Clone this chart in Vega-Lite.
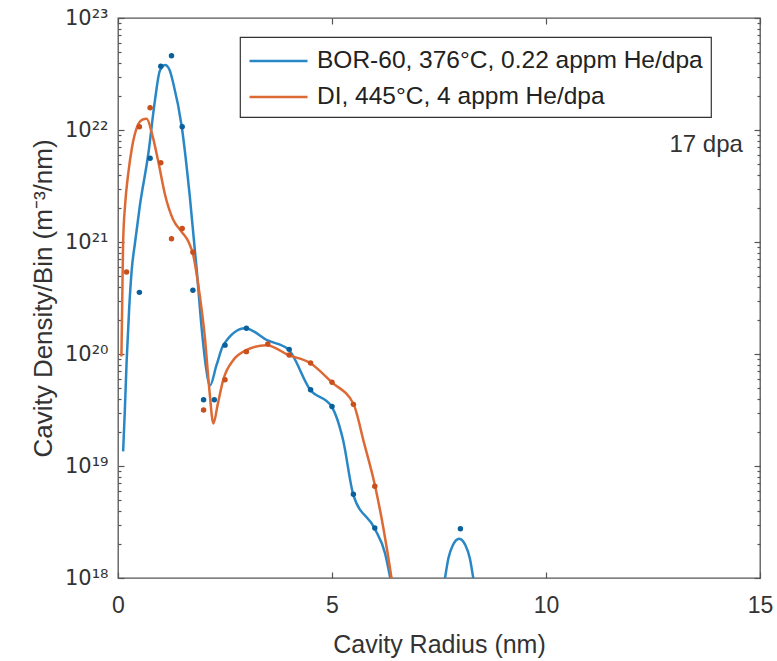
{
  "$schema": "https://vega.github.io/schema/vega-lite/v6.json",
  "width": 642,
  "height": 560,
  "autosize": {"type": "none"},
  "padding": {"left": 118, "top": 18, "right": 17, "bottom": 83},
  "background": "white",
  "config": {
    "view": {"stroke": "#555555", "strokeWidth": 1.3},
    "font": "Liberation Sans",
    "axis": {"grid": false, "domain": false, "labelFont": "Liberation Sans", "titleFont": "Liberation Sans", "labelColor": "#333333", "titleColor": "#333333", "titleFontWeight": "normal", "tickColor": "#555555", "tickWidth": 1.2, "labelFlush": false},
    "legend": {
      "orient": "none", "legendX": 122, "legendY": 19, "direction": "vertical",
      "fillColor": "white", "strokeColor": "#333333", "strokeWidth": 1.2, "padding": 8,
      "labelFontSize": 24.5, "labelFont": "Liberation Sans", "labelColor": "#222222",
      "symbolType": "M-1,0H3", "symbolSize": 841, "symbolStrokeWidth": 2.5,
      "rowPadding": 8, "labelOffset": 37, "labelLimit": 700
    }
  },
  "datasets": {
    "curves": [
      {"series": "BOR-60, 376°C, 0.22 appm He/dpa", "x": 0.12, "y": 1.35e19},
      {"series": "BOR-60, 376°C, 0.22 appm He/dpa", "x": 0.16, "y": 3.16e19},
      {"series": "BOR-60, 376°C, 0.22 appm He/dpa", "x": 0.2, "y": 8.3e19},
      {"series": "BOR-60, 376°C, 0.22 appm He/dpa", "x": 0.26, "y": 2.5e20},
      {"series": "BOR-60, 376°C, 0.22 appm He/dpa", "x": 0.32, "y": 5.6e20},
      {"series": "BOR-60, 376°C, 0.22 appm He/dpa", "x": 0.4, "y": 1.0e21},
      {"series": "BOR-60, 376°C, 0.22 appm He/dpa", "x": 0.51, "y": 2.1e21},
      {"series": "BOR-60, 376°C, 0.22 appm He/dpa", "x": 0.71, "y": 6.2e21},
      {"series": "BOR-60, 376°C, 0.22 appm He/dpa", "x": 0.86, "y": 1.8e22},
      {"series": "BOR-60, 376°C, 0.22 appm He/dpa", "x": 0.98, "y": 3.4e22},
      {"series": "BOR-60, 376°C, 0.22 appm He/dpa", "x": 1.1, "y": 3.8e22},
      {"series": "BOR-60, 376°C, 0.22 appm He/dpa", "x": 1.2, "y": 3.47e22},
      {"series": "BOR-60, 376°C, 0.22 appm He/dpa", "x": 1.29, "y": 2.63e22},
      {"series": "BOR-60, 376°C, 0.22 appm He/dpa", "x": 1.49, "y": 1.07e22},
      {"series": "BOR-60, 376°C, 0.22 appm He/dpa", "x": 1.68, "y": 2.5e21},
      {"series": "BOR-60, 376°C, 0.22 appm He/dpa", "x": 1.84, "y": 5.6e20},
      {"series": "BOR-60, 376°C, 0.22 appm He/dpa", "x": 1.96, "y": 1.62e20},
      {"series": "BOR-60, 376°C, 0.22 appm He/dpa", "x": 2.05, "y": 7.9e19},
      {"series": "BOR-60, 376°C, 0.22 appm He/dpa", "x": 2.15, "y": 5.25e19},
      {"series": "BOR-60, 376°C, 0.22 appm He/dpa", "x": 2.3, "y": 7.9e19},
      {"series": "BOR-60, 376°C, 0.22 appm He/dpa", "x": 2.46, "y": 1.2e20},
      {"series": "BOR-60, 376°C, 0.22 appm He/dpa", "x": 2.97, "y": 1.7e20},
      {"series": "BOR-60, 376°C, 0.22 appm He/dpa", "x": 3.5, "y": 1.32e20},
      {"series": "BOR-60, 376°C, 0.22 appm He/dpa", "x": 3.98, "y": 1.1e20},
      {"series": "BOR-60, 376°C, 0.22 appm He/dpa", "x": 4.49, "y": 4.8e19},
      {"series": "BOR-60, 376°C, 0.22 appm He/dpa", "x": 4.99, "y": 3.4e19},
      {"series": "BOR-60, 376°C, 0.22 appm He/dpa", "x": 5.26, "y": 1.7e19},
      {"series": "BOR-60, 376°C, 0.22 appm He/dpa", "x": 5.5, "y": 5.5e18},
      {"series": "BOR-60, 376°C, 0.22 appm He/dpa", "x": 6.0, "y": 2.75e18},
      {"series": "BOR-60, 376°C, 0.22 appm He/dpa", "x": 6.24, "y": 1.66e18},
      {"series": "BOR-60, 376°C, 0.22 appm He/dpa", "x": 6.36, "y": 1.0e18},
      {"series": "BOR-60, 376°C, 0.22 appm He/dpa", "x": 6.45, "y": 6.3e17},
      {"series": "BOR-60, 376°C, 0.22 appm He/dpa", "x": 7.0, "y": 1e17},
      {"series": "BOR-60, 376°C, 0.22 appm He/dpa", "x": 7.55, "y": 6.3e17},
      {"series": "BOR-60, 376°C, 0.22 appm He/dpa", "x": 7.64, "y": 1.0e18},
      {"series": "BOR-60, 376°C, 0.22 appm He/dpa", "x": 7.72, "y": 1.5e18},
      {"series": "BOR-60, 376°C, 0.22 appm He/dpa", "x": 7.82, "y": 1.95e18},
      {"series": "BOR-60, 376°C, 0.22 appm He/dpa", "x": 7.97, "y": 2.24e18},
      {"series": "BOR-60, 376°C, 0.22 appm He/dpa", "x": 8.12, "y": 1.95e18},
      {"series": "BOR-60, 376°C, 0.22 appm He/dpa", "x": 8.22, "y": 1.5e18},
      {"series": "BOR-60, 376°C, 0.22 appm He/dpa", "x": 8.3, "y": 1.0e18},
      {"series": "BOR-60, 376°C, 0.22 appm He/dpa", "x": 8.38, "y": 6.3e17},
      {"series": "DI, 445°C, 4 appm He/dpa", "x": 0.08, "y": 9.5e19},
      {"series": "DI, 445°C, 4 appm He/dpa", "x": 0.1, "y": 3.16e20},
      {"series": "DI, 445°C, 4 appm He/dpa", "x": 0.12, "y": 1.0e21},
      {"series": "DI, 445°C, 4 appm He/dpa", "x": 0.17, "y": 2.24e21},
      {"series": "DI, 445°C, 4 appm He/dpa", "x": 0.24, "y": 4.1e21},
      {"series": "DI, 445°C, 4 appm He/dpa", "x": 0.33, "y": 7.1e21},
      {"series": "DI, 445°C, 4 appm He/dpa", "x": 0.44, "y": 1.05e22},
      {"series": "DI, 445°C, 4 appm He/dpa", "x": 0.56, "y": 1.23e22},
      {"series": "DI, 445°C, 4 appm He/dpa", "x": 0.67, "y": 1.26e22},
      {"series": "DI, 445°C, 4 appm He/dpa", "x": 0.8, "y": 9.1e21},
      {"series": "DI, 445°C, 4 appm He/dpa", "x": 0.94, "y": 5.25e21},
      {"series": "DI, 445°C, 4 appm He/dpa", "x": 1.1, "y": 2.63e21},
      {"series": "DI, 445°C, 4 appm He/dpa", "x": 1.29, "y": 1.58e21},
      {"series": "DI, 445°C, 4 appm He/dpa", "x": 1.49, "y": 1.23e21},
      {"series": "DI, 445°C, 4 appm He/dpa", "x": 1.65, "y": 1.0e21},
      {"series": "DI, 445°C, 4 appm He/dpa", "x": 1.76, "y": 7.6e20},
      {"series": "DI, 445°C, 4 appm He/dpa", "x": 1.9, "y": 3.55e20},
      {"series": "DI, 445°C, 4 appm He/dpa", "x": 2.03, "y": 1.41e20},
      {"series": "DI, 445°C, 4 appm He/dpa", "x": 2.13, "y": 5.0e19},
      {"series": "DI, 445°C, 4 appm He/dpa", "x": 2.23, "y": 2.4e19},
      {"series": "DI, 445°C, 4 appm He/dpa", "x": 2.33, "y": 3.55e19},
      {"series": "DI, 445°C, 4 appm He/dpa", "x": 2.46, "y": 5.9e19},
      {"series": "DI, 445°C, 4 appm He/dpa", "x": 2.7, "y": 8.9e19},
      {"series": "DI, 445°C, 4 appm He/dpa", "x": 2.97, "y": 1.07e20},
      {"series": "DI, 445°C, 4 appm He/dpa", "x": 3.47, "y": 1.2e20},
      {"series": "DI, 445°C, 4 appm He/dpa", "x": 3.98, "y": 9.8e19},
      {"series": "DI, 445°C, 4 appm He/dpa", "x": 4.49, "y": 8.3e19},
      {"series": "DI, 445°C, 4 appm He/dpa", "x": 4.99, "y": 5.6e19},
      {"series": "DI, 445°C, 4 appm He/dpa", "x": 5.5, "y": 3.6e19},
      {"series": "DI, 445°C, 4 appm He/dpa", "x": 5.75, "y": 1.6e19},
      {"series": "DI, 445°C, 4 appm He/dpa", "x": 6.0, "y": 6.8e18},
      {"series": "DI, 445°C, 4 appm He/dpa", "x": 6.2, "y": 2.8e18},
      {"series": "DI, 445°C, 4 appm He/dpa", "x": 6.39, "y": 1.0e18},
      {"series": "DI, 445°C, 4 appm He/dpa", "x": 6.5, "y": 5.0e17}
    ],
    "dots": [
      {"series": "BOR-60, 376°C, 0.22 appm He/dpa", "x": 0.5, "y": 3.55e20},
      {"series": "BOR-60, 376°C, 0.22 appm He/dpa", "x": 0.75, "y": 5.6e21},
      {"series": "BOR-60, 376°C, 0.22 appm He/dpa", "x": 1.0, "y": 3.7e22},
      {"series": "BOR-60, 376°C, 0.22 appm He/dpa", "x": 1.25, "y": 4.6e22},
      {"series": "BOR-60, 376°C, 0.22 appm He/dpa", "x": 1.5, "y": 1.07e22},
      {"series": "BOR-60, 376°C, 0.22 appm He/dpa", "x": 1.75, "y": 3.7e20},
      {"series": "BOR-60, 376°C, 0.22 appm He/dpa", "x": 2.0, "y": 3.9e19},
      {"series": "BOR-60, 376°C, 0.22 appm He/dpa", "x": 2.25, "y": 3.9e19},
      {"series": "BOR-60, 376°C, 0.22 appm He/dpa", "x": 2.5, "y": 1.2e20},
      {"series": "BOR-60, 376°C, 0.22 appm He/dpa", "x": 3.0, "y": 1.7e20},
      {"series": "BOR-60, 376°C, 0.22 appm He/dpa", "x": 4.0, "y": 1.1e20},
      {"series": "BOR-60, 376°C, 0.22 appm He/dpa", "x": 4.5, "y": 4.8e19},
      {"series": "BOR-60, 376°C, 0.22 appm He/dpa", "x": 5.0, "y": 3.4e19},
      {"series": "BOR-60, 376°C, 0.22 appm He/dpa", "x": 5.5, "y": 5.6e18},
      {"series": "BOR-60, 376°C, 0.22 appm He/dpa", "x": 6.0, "y": 2.8e18},
      {"series": "BOR-60, 376°C, 0.22 appm He/dpa", "x": 8.0, "y": 2.75e18},
      {"series": "DI, 445°C, 4 appm He/dpa", "x": 0.2, "y": 5.4e20},
      {"series": "DI, 445°C, 4 appm He/dpa", "x": 0.5, "y": 1.07e22},
      {"series": "DI, 445°C, 4 appm He/dpa", "x": 0.75, "y": 1.58e22},
      {"series": "DI, 445°C, 4 appm He/dpa", "x": 1.0, "y": 5.1e21},
      {"series": "DI, 445°C, 4 appm He/dpa", "x": 1.25, "y": 1.07e21},
      {"series": "DI, 445°C, 4 appm He/dpa", "x": 1.5, "y": 1.32e21},
      {"series": "DI, 445°C, 4 appm He/dpa", "x": 1.75, "y": 8.1e20},
      {"series": "DI, 445°C, 4 appm He/dpa", "x": 2.0, "y": 3.16e19},
      {"series": "DI, 445°C, 4 appm He/dpa", "x": 2.5, "y": 5.9e19},
      {"series": "DI, 445°C, 4 appm He/dpa", "x": 3.0, "y": 1.05e20},
      {"series": "DI, 445°C, 4 appm He/dpa", "x": 3.5, "y": 1.23e20},
      {"series": "DI, 445°C, 4 appm He/dpa", "x": 4.0, "y": 9.8e19},
      {"series": "DI, 445°C, 4 appm He/dpa", "x": 4.5, "y": 8.3e19},
      {"series": "DI, 445°C, 4 appm He/dpa", "x": 5.0, "y": 5.6e19},
      {"series": "DI, 445°C, 4 appm He/dpa", "x": 5.5, "y": 3.55e19},
      {"series": "DI, 445°C, 4 appm He/dpa", "x": 6.0, "y": 6.6e18}
    ],
    "notes": [
      {"x": 14.6, "y": 7.4e21, "label": "17 dpa"}
    ]
  },
  "layer": [
    {
      "data": {"name": "curves"},
      "mark": {"type": "line", "interpolate": "monotone", "strokeWidth": 2.5, "clip": true},
      "encoding": {
        "x": {"field": "x", "type": "quantitative",
          "scale": {"domain": [0, 15], "nice": false, "zero": false},
          "axis": {"orient": "bottom", "values": [0, 5, 10, 15], "tickSize": -6, "labelFontSize": 23, "labelPadding": 22, "title": "Cavity Radius (nm)", "titleFontSize": 25, "titlePadding": 15}},
        "y": {"field": "y", "type": "quantitative",
          "scale": {"type": "log", "domain": [1e18, 1e23], "nice": false},
          "axis": {"orient": "left",
            "values": [1e18, 2e18, 3e18, 4e18, 5e18, 6e18, 7e18, 8e18, 9e18, 1e19, 2e19, 3e19, 4e19, 5e19, 6e19, 7e19, 8e19, 9e19, 1e20, 2e20, 3e20, 4e20, 5e20, 6e20, 7e20, 8e20, 9e20, 1e21, 2e21, 3e21, 4e21, 5e21, 6e21, 7e21, 8e21, 9e21, 1e22, 2e22, 3e22, 4e22, 5e22, 6e22, 7e22, 8e22, 9e22, 1e23],
            "labelExpr": "abs(datum.value/1e18-1)<1e-6 ? '10¹⁸' : abs(datum.value/1e19-1)<1e-6 ? '10¹⁹' : abs(datum.value/1e20-1)<1e-6 ? '10²⁰' : abs(datum.value/1e21-1)<1e-6 ? '10²¹' : abs(datum.value/1e22-1)<1e-6 ? '10²²' : abs(datum.value/1e23-1)<1e-6 ? '10²³' : ''",
            "tickSize": {"condition": {"test": "abs(log(datum.value)/LN10 - round(log(datum.value)/LN10)) < 0.001", "value": -6}, "value": -3},
            "labelFont": "DejaVu Sans", "labelFontSize": 21, "labelPadding": 16, "labelOverlap": false,
            "title": "Cavity Density/Bin (m⁻³/nm)", "titleFontSize": 26, "titlePadding": 8}},
        "color": {"field": "series", "type": "nominal",
          "scale": {"domain": ["BOR-60, 376°C, 0.22 appm He/dpa", "DI, 445°C, 4 appm He/dpa"], "range": ["#2a87c6", "#dd6a34"]},
          "legend": {"title": null}}
      }
    },
    {
      "data": {"name": "dots"},
      "mark": {"type": "point", "filled": true, "size": 30, "opacity": 1, "clip": true},
      "encoding": {
        "x": {"field": "x", "type": "quantitative",
          "scale": {"domain": [0, 15], "nice": false, "zero": false},
          "axis": {"orient": "top", "values": [0, 5, 10, 15], "tickSize": -6, "labels": false, "title": null}},
        "y": {"field": "y", "type": "quantitative",
          "scale": {"type": "log", "domain": [1e18, 1e23], "nice": false},
          "axis": {"orient": "right",
            "values": [1e18, 2e18, 3e18, 4e18, 5e18, 6e18, 7e18, 8e18, 9e18, 1e19, 2e19, 3e19, 4e19, 5e19, 6e19, 7e19, 8e19, 9e19, 1e20, 2e20, 3e20, 4e20, 5e20, 6e20, 7e20, 8e20, 9e20, 1e21, 2e21, 3e21, 4e21, 5e21, 6e21, 7e21, 8e21, 9e21, 1e22, 2e22, 3e22, 4e22, 5e22, 6e22, 7e22, 8e22, 9e22, 1e23],
            "tickSize": {"condition": {"test": "abs(log(datum.value)/LN10 - round(log(datum.value)/LN10)) < 0.001", "value": -6}, "value": -3},
            "labels": false, "title": null}},
        "color": {"field": "series", "type": "nominal",
          "scale": {"domain": ["BOR-60, 376°C, 0.22 appm He/dpa", "DI, 445°C, 4 appm He/dpa"], "range": ["#0b5f9a", "#c9501c"]},
          "legend": null}
      }
    },
    {
      "data": {"name": "notes"},
      "mark": {"type": "text", "align": "right", "baseline": "middle", "fontSize": 24, "font": "Liberation Sans", "color": "#333333"},
      "encoding": {
        "x": {"field": "x", "type": "quantitative", "axis": null},
        "y": {"field": "y", "type": "quantitative", "axis": null},
        "text": {"field": "label"}
      }
    }
  ],
  "resolve": {"axis": {"x": "independent", "y": "independent"}, "scale": {"color": "independent"}}
}
